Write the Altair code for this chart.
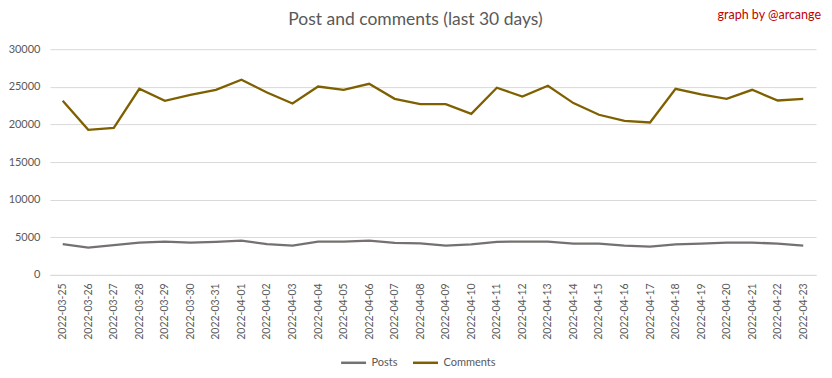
import altair as alt
import pandas as pd

dates = ["2022-03-25", "2022-03-26", "2022-03-27", "2022-03-28", "2022-03-29", "2022-03-30",
         "2022-03-31", "2022-04-01", "2022-04-02", "2022-04-03", "2022-04-04", "2022-04-05",
         "2022-04-06", "2022-04-07", "2022-04-08", "2022-04-09", "2022-04-10", "2022-04-11",
         "2022-04-12", "2022-04-13", "2022-04-14", "2022-04-15", "2022-04-16", "2022-04-17",
         "2022-04-18", "2022-04-19", "2022-04-20", "2022-04-21", "2022-04-22", "2022-04-23"]
posts = [4080, 3630, 3950, 4300, 4430, 4300, 4400, 4560, 4080, 3900, 4430, 4430,
         4560, 4250, 4200, 3900, 4050, 4400, 4430, 4430, 4150, 4150, 3900, 3750,
         4050, 4150, 4300, 4300, 4150, 3900]
comments = [23140, 19280, 19550, 24730, 23140, 23940, 24600, 25930, 24240, 22780, 25040, 24600,
            25400, 23400, 22700, 22700, 21410, 24870, 23710, 25130, 22830, 21280, 20480, 20260,
            24730, 23980, 23400, 24600, 23180, 23400]
series_names = ["Posts", "Comments"]
series_colors = ["#767171", "#7F6000"]

rows = []
for i, d in enumerate(dates):
    rows.append({"date": d, "series": "Posts", "value": posts[i]})
    rows.append({"date": d, "series": "Comments", "value": comments[i]})
df = pd.DataFrame(rows)

W, H = 767, 226
FONT = "Lato"
GRAY = "#595959"

lines = alt.Chart(df).mark_line(strokeWidth=2.3).encode(
    x=alt.X("date:N", sort=dates,
            scale=alt.Scale(type="point", padding=0.5),
            axis=alt.Axis(title=None, labelAngle=-90, labelFontSize=10.5, labelColor=GRAY,
                          labelFont=FONT, ticks=False, domain=True, domainColor="#D9D9D9",
                          labelPadding=8, grid=False, labelBaseline="middle", labelAlign="right")),
    y=alt.Y("value:Q", scale=alt.Scale(domain=[0, 30000], nice=False),
            axis=alt.Axis(title=None, values=list(range(0, 30001, 5000)), format="d",
                          labelFontSize=11, labelColor=GRAY, labelFont=FONT,
                          ticks=False, domain=False, gridColor="#D9D9D9", gridWidth=1,
                          labelPadding=10)),
    color=alt.Color("series:N", sort=series_names,
                    scale=alt.Scale(domain=series_names, range=series_colors),
                    legend=alt.Legend(title=None, orient="none", direction="horizontal",
                                      legendX=290, legendY=300, symbolType="stroke",
                                      symbolStrokeWidth=2.5, symbolSize=625,
                                      labelFontSize=11, labelColor=GRAY, labelFont=FONT,
                                      columnPadding=9, labelOffset=4)),
)

title = alt.Chart(pd.DataFrame({"t": ["Post and comments (last 30 days)"]})).mark_text(
    fontSize=17.5, font=FONT, color=GRAY, align="center", baseline="middle"
).encode(x=alt.value(366), y=alt.value(-29), text="t:N")

credit = alt.Chart(pd.DataFrame({"t": ["graph by @arcange"]})).mark_text(
    fontSize=12.5, font=FONT, color="#C00000", align="right", baseline="middle"
).encode(x=alt.value(772), y=alt.value(-34), text="t:N")

chart = alt.layer(lines, title, credit).properties(
    width=W, height=H,
    autosize=alt.AutoSizeParams(type="none"),
    padding={"left": 42, "top": 41, "right": 8, "bottom": 95},
    background="white",
).configure_view(stroke=None)

chart.save("out.html", embed_options={"renderer": "svg", "actions": False})
